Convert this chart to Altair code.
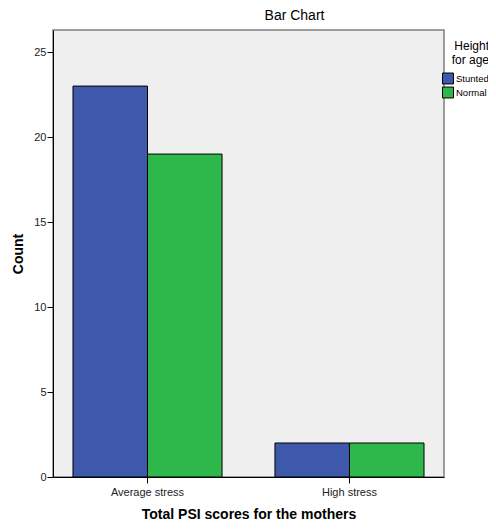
import altair as alt
import pandas as pd

categories = ["Average stress", "High stress"]
groups = ["Stunted", "Normal"]
stunted_counts = [23, 2]
normal_counts = [19, 2]
y_ticks = [0, 5, 10, 15, 20, 25]
colors = ["#3E58AC", "#2EB84B"]

rows = []
for i, c in enumerate(categories):
    rows.append({"psi": c, "group": "Stunted", "count": stunted_counts[i]})
    rows.append({"psi": c, "group": "Normal", "count": normal_counts[i]})
df = pd.DataFrame(rows)

FONT = "Liberation Sans"

chart = alt.Chart(df).mark_bar(stroke="#000000", strokeWidth=1).encode(
    x=alt.X("psi:N", sort=categories,
            scale=alt.Scale(paddingInner=0.262, paddingOuter=0.099),
            axis=alt.Axis(title="Total PSI scores for the mothers", labelAngle=0,
                          tickSize=6, labelPadding=3, titlePadding=10,
                          domainColor="#000000", tickColor="#000000",
                          labelFontSize=11, titleFontSize=14, titleFontWeight="bold",
                          labelColor="#222222", titleColor="#000000")),
    xOffset=alt.XOffset("group:N", sort=groups,
                        scale=alt.Scale(paddingInner=0, paddingOuter=0)),
    y=alt.Y("count:Q", scale=alt.Scale(domain=[0, 26.3], nice=False),
            axis=alt.Axis(title="Count", values=y_ticks, tickSize=6, labelPadding=1,
                          titlePadding=8, grid=False, domainColor="#000000",
                          tickColor="#000000", labelFontSize=11, titleFontSize=14,
                          titleFontWeight="bold", labelColor="#222222",
                          titleColor="#000000")),
    color=alt.Color("group:N", sort=groups,
                    scale=alt.Scale(domain=groups, range=colors),
                    legend=alt.Legend(title=["Height", "for age"], orient="none",
                                      legendX=389, legendY=11, padding=0,
                                      symbolType="square", symbolSize=120,
                                      symbolStrokeColor="#000000", symbolStrokeWidth=1,
                                      symbolOpacity=1, labelFontSize=9.5,
                                      titleFontSize=12, titleLineHeight=14,
                                      titleFontWeight="normal",
                                      titleAnchor="end", titleAlign="right",
                                      titlePadding=5,
                                      rowPadding=1, clipHeight=13, labelOffset=2,
                                      labelColor="#000000", titleColor="#000000")),
).properties(
    width=391, height=447,
    view=alt.ViewBackground(fill="#EFEFEF", stroke="#808080", strokeWidth=1.5),
    title=alt.TitleParams("Bar Chart", anchor="middle", dx=46, offset=7,
                          fontSize=14, fontWeight="normal", color="#000000"),
    autosize=alt.AutoSizeParams(type="none"),
    padding={"left": 45, "top": 22, "right": 44, "bottom": 44},
).configure_view(
    fill="#EFEFEF", stroke="#808080", strokeWidth=1.5
).configure(font=FONT)

chart.save("out.html", embed_options={"renderer": "svg", "actions": False})
